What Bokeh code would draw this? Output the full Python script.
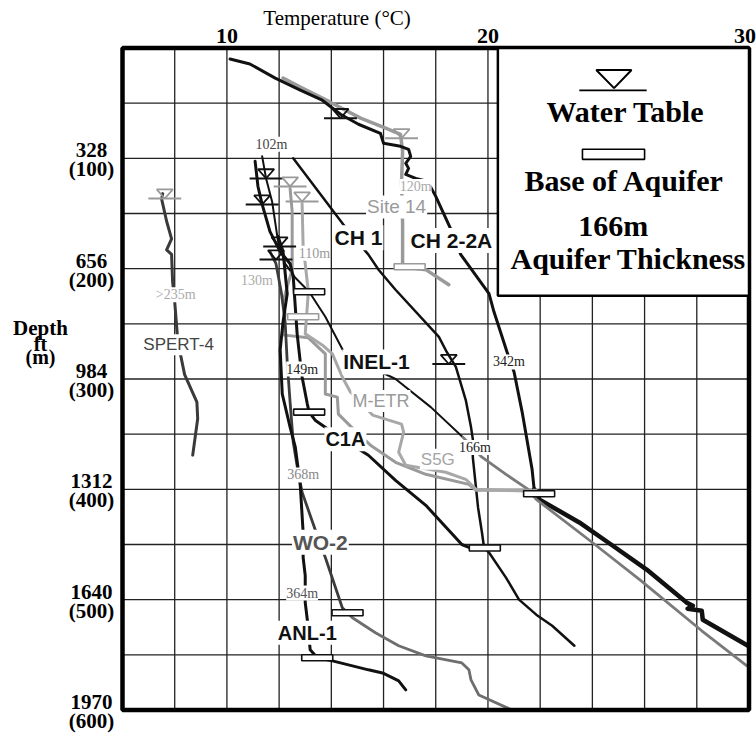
from bokeh.plotting import figure
from bokeh.models import Label, BoxAnnotation, PolyAnnotation
from bokeh.embed import file_html
from bokeh.resources import INLINE

# ---------------- axes / ticks ----------------
temp_ticks = [10, 20, 30]
temp_grid = [8, 10, 12, 14, 16, 18, 20, 22, 24, 26, 28]
depth_m = [100, 200, 300, 400, 500, 600]
depth_ft = ["328", "656", "984", "1312", "1640", "1970"]
depth_grid = [50, 100, 150, 200, 250, 300, 350, 400, 450, 500, 550]
T_MIN, T_MAX, D_MIN, D_MAX = 6, 30, 0, 600

# ---------------- well profiles (temperature degC, depth m) ----------------
spert4_t = [7.54, 7.50, 7.69, 7.88, 7.69, 7.88, 7.92, 8.00, 8.12, 8.38, 8.85, 8.88, 8.69]
spert4_d = [132, 137, 157, 173, 183, 187, 212, 230, 266, 296, 321, 336, 369]

ch22a_t = [10.12, 10.88, 11.85, 12.81, 13.65, 14.35, 15.04, 15.88, 16.0, 16.65, 16.96, 17.04, 16.85,
           16.96, 16.85, 17.23, 17.69, 18.0, 18.58, 18.96, 20.04, 20.23, 20.73, 21.0, 21.31, 21.69,
           21.77, 21.96, 23.5, 24.77, 26.08, 27.62, 27.85, 27.65, 28.19, 28.23, 29.96]
ch22a_d = [10, 14.5, 27.3, 38.2, 47.3, 60, 69.1, 77.3, 86.4, 89.1, 91.8, 98.2, 104.5,
           109.1, 114.5, 118.2, 120.9, 134.5, 164.5, 187.3, 222.7, 239.1, 275.5, 293.6, 330, 381.8,
           400, 409.1, 430, 450.9, 472.7, 502.7, 505.5, 508.2, 510, 518.2, 541.8]

site14_t = [12.15, 12.81, 13.96, 15.12, 16.08, 16.65, 16.73, 16.69, 16.73, 16.73, 16.73, 17.62, 18.50]
site14_d = [27.3, 35.5, 49.1, 63.6, 72.7, 78.2, 93.6, 120.9, 159.1, 195.5, 198.2, 200.9, 214.5]

ch1_t = [12.54, 14.46, 15.42, 15.81, 16.46, 18.12, 18.42, 18.77, 19.15, 19.35, 19.42, 19.42, 19.62,
         19.77, 19.85, 20.04, 20.69, 21.19, 21.85, 22.46, 23.31]
ch1_d = [100, 160, 187.3, 201, 219.1, 261.8, 275.5, 289.1, 319.1, 343.6, 354.5, 371, 416.4,
         439.1, 452.7, 457.3, 480, 500, 513.6, 523.6, 541.8]

inel1_t = [11.35, 11.5, 11.73, 11.96, 12.23, 12.62, 13.15, 13.77, 14.54, 16.46, 17.81, 19.04,
           19.77, 20.69, 21.54, 21.85, 24.0, 25.81, 28.19, 29.92]
inel1_d = [98.2, 118.2, 139.1, 175.5, 195.5, 208.2, 220.9, 243.6, 278.2, 300, 325.5, 352.7,
           370.9, 386.4, 400, 409.1, 448.2, 481.8, 528.2, 560]

c1a_t = [11.08, 11.19, 11.35, 11.65, 12.04, 12.42, 12.54, 12.69, 12.81, 12.88, 13.08, 13.15,
         13.38, 14.15, 15.42, 16.46, 17.62, 19.0, 19.27]
c1a_d = [102.7, 125.5, 141.8, 166.4, 184.5, 195.5, 207.3, 259.1, 284.5, 298.2, 322.7, 330,
         337.3, 350, 369.1, 391.8, 414.5, 450, 452.7]

anl1_t = [11.96, 12.15, 12.31, 12.15, 12.04, 12.12, 12.42, 12.62, 12.73, 12.81, 12.92, 12.92,
          13.0, 13.0, 13.08, 13.19, 13.46, 14.04, 14.81, 15.42, 15.96, 16.35, 16.58, 16.85]
anl1_d = [170.9, 184.5, 222.7, 248.2, 273.6, 313.6, 343.6, 361.8, 381.8, 396.4, 439.1, 461.8,
          478.2, 502.7, 518.2, 545.5, 552.7, 555.5, 560, 563.6, 566.4, 570.9, 573.6, 581.8]

wo2_t = [11.65, 11.88, 12.08, 12.23, 12.31, 12.42, 12.54, 12.73, 12.88, 13.38, 13.77, 14.42,
         14.62, 14.81, 15.69, 16.58, 17.62, 19.0, 19.27, 19.35, 19.65, 20.92]
wo2_d = [184.5, 195.5, 220.9, 248.2, 284.5, 320.9, 357.3, 384.5, 402.7, 436.4, 461.8, 507.3,
         511.8, 516.4, 530, 541.8, 550.9, 557.3, 563.6, 572.7, 586.4, 600]

metr_t = [12.42, 12.5, 12.5, 12.31, 12.15, 12.23, 12.12, 13.12, 13.77, 13.77, 14.23, 14.27,
          15.04, 15.5, 16.46, 17.62, 19.27, 19.54, 21.85]
metr_d = [127.3, 148.2, 200.9, 216.4, 230, 240.9, 260, 262.7, 277.3, 313.6, 316.4, 331.8,
          350, 360, 375.5, 386.4, 395.5, 400.9, 400.9]

s5g_t = [12.88, 12.92, 13.0, 13.12, 13.0, 13.65, 14.04, 14.42, 14.73, 15.58, 16.69, 16.77,
         16.58, 16.85, 18.38, 19.15, 19.54, 21.85]
s5g_d = [140.9, 180, 195.5, 221, 259.1, 269.1, 277.3, 298.2, 311.8, 332.7, 340.9, 348.2,
         366.4, 378.2, 384.5, 390.9, 400, 401.8]

# water table markers
wt_t = [7.62, 14.35, 16.69, 18.5, 11.5, 11.35, 12.02, 11.88, 12.42, 12.88]
wt_d = [136.4, 63.6, 81.8, 286.4, 118.2, 141.8, 180, 191.8, 125.5, 139.1]
wt_grey = [True, False, True, False, False, False, False, False, True, True]

# base of aquifer markers
base_t = [21.96, 17.0, 19.88, 13.15, 12.92, 13.15, 14.62, 13.46]
base_d = [404.0, 198.2, 453.2, 220.9, 243.6, 330, 511.8, 552.7]
base_grey = [False, True, False, False, True, False, False, False]

# well names and thickness notes
name_text = ["CH 2-2A", "CH 1", "INEL-1", "C1A", "ANL-1", "WO-2", "Site 14", "M-ETR", "S5G", "SPERT-4"]
name_t = [18.6, 15.04, 15.73, 14.54, 13.08, 13.58, 16.5, 15.9, 18.08, 8.15]
name_d = [174.5, 172, 284.5, 354.5, 530, 448, 144, 320, 372.7, 269]

note_text = ["102m", "110m", "130m", ">235m", "149m", "342m", "166m", "368m", "364m", "120m"]
note_t = [11.71, 13.35, 11.15, 8.04, 12.88, 20.8, 19.5, 12.92, 12.88, 17.23]
note_d = [87.3, 186, 211, 223.6, 291, 284.5, 362, 387, 494, 125.5]

BLACK = "#111111"
GREY = "#9a9a9a"

W, H = 756, 734
FL, FR, FT, FB = 122.0, 748.5, 47.5, 709.5          # frame edges in canvas pixels
sx = (FR - FL) / (T_MAX - T_MIN)
sy = (FB - FT) / (D_MAX - D_MIN)
x_range = (T_MIN - FL / sx, T_MAX + (W - FR) / sx)
y_range = (D_MAX + (H - FB) / sy, D_MIN - FT / sy)

p = figure(width=W, height=H, x_range=x_range, y_range=y_range,
           x_axis_location=None, y_axis_location=None,
           min_border=0, output_backend="svg", toolbar_location=None)
p.outline_line_color = None
p.background_fill_color = "white"
p.border_fill_color = "white"
p.xgrid.visible = False
p.ygrid.visible = False

# grid
p.segment(x0=temp_grid, y0=[D_MIN] * len(temp_grid), x1=temp_grid, y1=[D_MAX] * len(temp_grid),
          line_color="#222222", line_width=1.3)
p.segment(x0=[T_MIN] * len(depth_grid), y0=depth_grid, x1=[T_MAX] * len(depth_grid), y1=depth_grid,
          line_color="#222222", line_width=1.3)


def draw(t, d, color, width, a=0, b=None):
    p.line(t[a:b], d[a:b], line_color=color, line_width=width, line_join="round", line_cap="round")


draw(spert4_t, spert4_d, "#3a3a3a", 3)
draw(site14_t, site14_d, GREY, 3.5)
draw(ch22a_t, ch22a_d, BLACK, 3, 0, 27)
draw(ch22a_t, ch22a_d, BLACK, 4.5, 26)
draw(ch1_t, ch1_d, BLACK, 2.5)
draw(inel1_t, inel1_d, BLACK, 2, 0, 12)
draw(inel1_t, inel1_d, "#7a7a7a", 2.8, 11)
draw(metr_t, metr_d, GREY, 3)
draw(s5g_t, s5g_d, "#a8a8a8", 3)
draw(wo2_t, wo2_d, "#3c3c3c", 2.8, 0, 13)
draw(wo2_t, wo2_d, "#6e6e6e", 2.8, 12)
draw(anl1_t, anl1_d, BLACK, 3)
draw(c1a_t, c1a_d, BLACK, 3)

# water table symbols
for t, d, g in zip(wt_t, wt_d, wt_grey):
    col = GREY if g else BLACK
    p.segment(x0=[t - 0.63], y0=[d], x1=[t + 0.63], y1=[d], line_color=col, line_width=2)
    p.patch(x=[t - 0.31, t + 0.31, t], y=[d - 8.3, d - 8.3, d], fill_alpha=0,
            line_color=col, line_width=1.8)

# base of aquifer symbols
for t, d, g in zip(base_t, base_d, base_grey):
    col = GREY if g else BLACK
    p.rect(x=[t], y=[d], width=31, height=6, width_units="screen", height_units="screen",
           fill_color="white", line_color=col, line_width=1.6)

# frame
p.quad(left=[T_MIN], right=[T_MAX], top=[D_MIN], bottom=[D_MAX], fill_alpha=0,
       line_color="black", line_width=4.5)

# well name labels
name_style = {
    "CH 2-2A": ("Liberation Sans", "bold", "21px", BLACK),
    "CH 1": ("Liberation Sans", "bold", "21px", BLACK),
    "INEL-1": ("Liberation Sans", "bold", "21px", BLACK),
    "C1A": ("Liberation Sans", "bold", "20px", BLACK),
    "ANL-1": ("Liberation Sans", "bold", "20px", BLACK),
    "WO-2": ("Liberation Sans", "bold", "21px", "#555555"),
    "Site 14": ("Liberation Sans", "normal", "19px", "#9a9a9a"),
    "M-ETR": ("Liberation Sans", "normal", "18px", "#9a9a9a"),
    "S5G": ("Liberation Sans", "normal", "17px", "#a5a5a5"),
    "SPERT-4": ("Liberation Sans", "normal", "17px", "#444444"),
}
for txt, t, d in zip(name_text, name_t, name_d):
    f, st, sz, col = name_style[txt]
    p.add_layout(Label(x=t, y=d, text=txt, text_font=f, text_font_style=st, text_font_size=sz,
                       text_color=col, text_align="center", text_baseline="middle",
                       background_fill_color="white", padding=1))

note_col = ["#444444", "#9a9a9a", "#aaaaaa", "#aaaaaa", "#222222", "#222222", "#222222",
            "#888888", "#555555", "#aaaaaa"]
for txt, t, d, col in zip(note_text, note_t, note_d, note_col):
    p.add_layout(Label(x=t, y=d, text=txt, text_font="Liberation Serif", text_font_size="14px",
                       text_color=col, text_align="center", text_baseline="middle",
                       background_fill_color="white", padding=0))

# ---------------- legend box ----------------
p.add_layout(BoxAnnotation(left=20.38, right=30, top=0, bottom=224.5, fill_color="white", fill_alpha=1,
                           line_color="black", line_width=2.5, line_alpha=1))
p.add_layout(PolyAnnotation(xs=[24.15, 25.5, 24.83], ys=[20, 20, 36.4], fill_alpha=0,
                            line_color="black", line_width=2, line_alpha=1))
p.add_layout(BoxAnnotation(left=23.5, right=26.08, top=37.6, bottom=39.2, fill_color="black",
                           fill_alpha=1, line_alpha=0))
p.add_layout(BoxAnnotation(left=23.62, right=26.0, top=91.8, bottom=100.9, fill_color="white",
                           fill_alpha=1, line_color="black", line_width=1.6, line_alpha=1))
leg_text = ["Water Table", "Base of Aquifer", "166m", "Aquifer Thickness"]
leg_t = [25.27, 25.23, 24.8, 25.38]
leg_d = [57.6, 120.5, 160.9, 190.8]
for txt, t, d in zip(leg_text, leg_t, leg_d):
    p.add_layout(Label(x=t, y=d, text=txt, text_font="Liberation Serif", text_font_style="bold",
                       text_font_size="30px", text_color="black", text_align="center",
                       text_baseline="middle"))

# ---------------- outer tick labels & titles ----------------
SERIF = "Liberation Serif"
for v in temp_ticks:
    al, off = ("right", 7) if v == T_MAX else ("center", 0)
    p.add_layout(Label(x=v, y=-11.3, text=str(v), text_font=SERIF, text_font_style="bold",
                       text_font_size="22px", text_color="black", text_align=al, x_offset=off,
                       text_baseline="middle"))

for m, ft in zip(depth_m, depth_ft):
    p.add_layout(Label(x=4.81, y=m, y_offset=8, text=ft, text_font=SERIF, text_font_style="bold",
                       text_font_size="21px", text_color="black", text_align="center",
                       text_baseline="middle"))
    p.add_layout(Label(x=4.81, y=m, y_offset=-11, text="(%d)" % m, text_font=SERIF,
                       text_font_style="bold", text_font_size="21px", text_color="black",
                       text_align="center", text_baseline="middle"))

p.add_layout(Label(x=14.22, y=-27.2, text="Temperature (\u00b0C)", text_font=SERIF,
                   text_font_size="21px", text_color="black", text_align="center", text_baseline="middle"))
axis_name = [("Depth", 254.0, "21px"), ("ft", 267.9, "20px"), ("(m)", 280.5, "20px")]
for txt, d, sz in axis_name:
    p.add_layout(Label(x=2.86, y=d, text=txt, text_font=SERIF, text_font_style="bold",
                       text_font_size=sz, text_color="black", text_align="center", text_baseline="middle"))

open("out.html", "w").write(file_html(p, INLINE))
